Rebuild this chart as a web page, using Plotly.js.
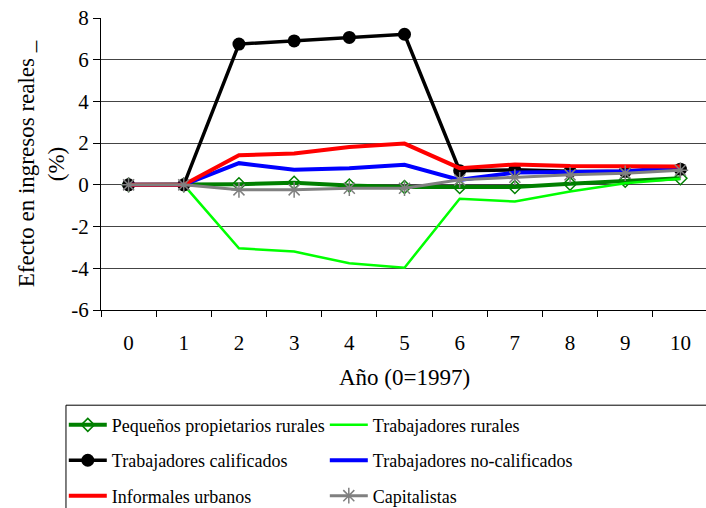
<!DOCTYPE html>
<html>
<head>
<meta charset="utf-8">
<script src="https://cdn.plot.ly/plotly-3.0.1.min.js"></script>
<style>
  html, body { margin: 0; padding: 0; background: #fff; overflow: hidden; }
  #chart { width: 720px; height: 508px; }
</style>
</head>
<body>
<div id="chart"></div>
<script>
(function () {

    const dom = document.getElementById("chart");

    const FONT = "Times New Roman, Liberation Serif, serif";

    // años (0 = 1997)
    const years = ["0", "1", "2", "3", "4", "5", "6", "7", "8", "9", "10"];

    // marcas del eje y (con guion simple, como en el original)
    const yTickVals = [-6, -4, -2, 0, 2, 4, 6, 8];
    const yTickText = ["-6", "-4", "-2", "0", "2", "4", "6", "8"];

    // efecto en ingresos reales (%)
    const pequenosPropietarios = [0, 0, 0.03, 0.1, -0.03, -0.1, -0.1, -0.1, 0.05, 0.2, 0.32];
    const trabRurales = [0, 0, -3.04, -3.2, -3.76, -3.97, -0.67, -0.8, -0.32, 0.08, 0.29];
    const trabCalificados = [0, 0, 6.75, 6.9, 7.07, 7.22, 0.68, 0.72, 0.65, 0.64, 0.75];
    const trabNoCalificados = [0, 0, 1.04, 0.72, 0.8, 0.96, 0.24, 0.59, 0.62, 0.65, 0.85];
    const informales = [0, 0, 1.42, 1.5, 1.82, 1.98, 0.8, 0.98, 0.9, 0.88, 0.88];
    const capitalistas = [0, 0, -0.24, -0.24, -0.16, -0.16, 0.24, 0.37, 0.48, 0.56, 0.7];

    const C = {
        darkGreen: "#008000",
        lightGreen: "#00FF00",
        black: "#000000",
        blue: "#0000FF",
        red: "#FF0000",
        gray: "#808080"
    };

    const traces = [
        {
            name: "Pequeños propietarios rurales",
            x: years, y: pequenosPropietarios,
            mode: "lines+markers",
            line: { color: C.darkGreen, width: 4 },
            marker: { symbol: "diamond-open", size: 10, color: C.darkGreen, line: { width: 1.5, color: C.darkGreen } },
            legend: "legend", legendgroup: "g1"
        },
        {
            name: "Trabajadores rurales",
            x: years, y: trabRurales,
            mode: "lines",
            line: { color: C.lightGreen, width: 2.5 },
            legend: "legend2", legendgroup: "g2"
        },
        {
            name: "Trabajadores calificados",
            x: years, y: trabCalificados,
            mode: "lines+markers",
            line: { color: C.black, width: 3.5 },
            marker: { symbol: "circle", size: 13, color: C.black },
            legend: "legend", legendgroup: "g3"
        },
        {
            name: "Trabajadores no-calificados",
            x: years, y: trabNoCalificados,
            mode: "lines",
            line: { color: C.blue, width: 4 },
            legend: "legend2", legendgroup: "g4"
        },
        {
            name: "Informales urbanos",
            x: years, y: informales,
            mode: "lines",
            line: { color: C.red, width: 4 },
            legend: "legend", legendgroup: "g5"
        },
        {
            name: "Capitalistas",
            x: years, y: capitalistas,
            mode: "lines+markers",
            line: { color: C.gray, width: 3 },
            marker: { symbol: "asterisk-open", size: 13, color: C.gray, line: { width: 1.5, color: C.gray } },
            legend: "legend2", legendgroup: "g6"
        }
    ];

    const legendBase = {
        orientation: "v",
        xanchor: "left",
        yanchor: "top",
        y: -0.331,
        bgcolor: "rgba(0,0,0,0)",
        borderwidth: 0,
        tracegroupgap: 9,
        itemwidth: 38,
        font: { family: FONT, size: 18, color: "#000" }
    };

    const layout = {
        width: 720,
        height: 508,
        paper_bgcolor: "#fff",
        plot_bgcolor: "#fff",
        margin: { l: 101, r: 12, t: 18, b: 198, autoexpand: false },
        font: { family: FONT, size: 20, color: "#000" },
        xaxis: {
            type: "category",
            range: [-0.5, 10.5],
            tickson: "boundaries",
            ticks: "outside",
            ticklen: 6,
            tickcolor: "#000",
            ticklabelstandoff: 14,
            showgrid: false,
            showline: true,
            linecolor: "#000",
            linewidth: 1,
            automargin: false,
            tickfont: { family: FONT, size: 21 },
            title: { text: "Año (0=1997)", font: { family: FONT, size: 23 }, standoff: 14 },
            fixedrange: true
        },
        yaxis: {
            range: [-6, 8],
            tickvals: yTickVals,
            ticktext: yTickText,
            ticks: "outside",
            ticklen: 7,
            tickcolor: "#000",
            showgrid: true,
            gridcolor: "#444",
            gridwidth: 1,
            zeroline: false,
            showline: true,
            linecolor: "#000",
            linewidth: 1,
            automargin: false,
            tickfont: { family: FONT, size: 21 },
            title: { text: "Efecto en ingresos reales _<br>(%)", font: { family: FONT, size: 23 }, standoff: 0 },
            fixedrange: true
        },
        showlegend: true,
        legend: Object.assign({}, legendBase, { x: -0.0613 }),
        legend2: Object.assign({}, legendBase, { x: 0.3687 }),
        shapes: [
            {
                type: "rect",
                xref: "paper", yref: "paper",
                x0: -0.0577, x1: 1.2,
                y0: -0.326, y1: -1.0,
                line: { color: "#000", width: 1 },
                fillcolor: "rgba(0,0,0,0)",
                layer: "below"
            }
        ]
    };

    Plotly.newPlot(dom, traces, layout, { displayModeBar: false, staticPlot: true });

})();
</script>
</body>
</html>
